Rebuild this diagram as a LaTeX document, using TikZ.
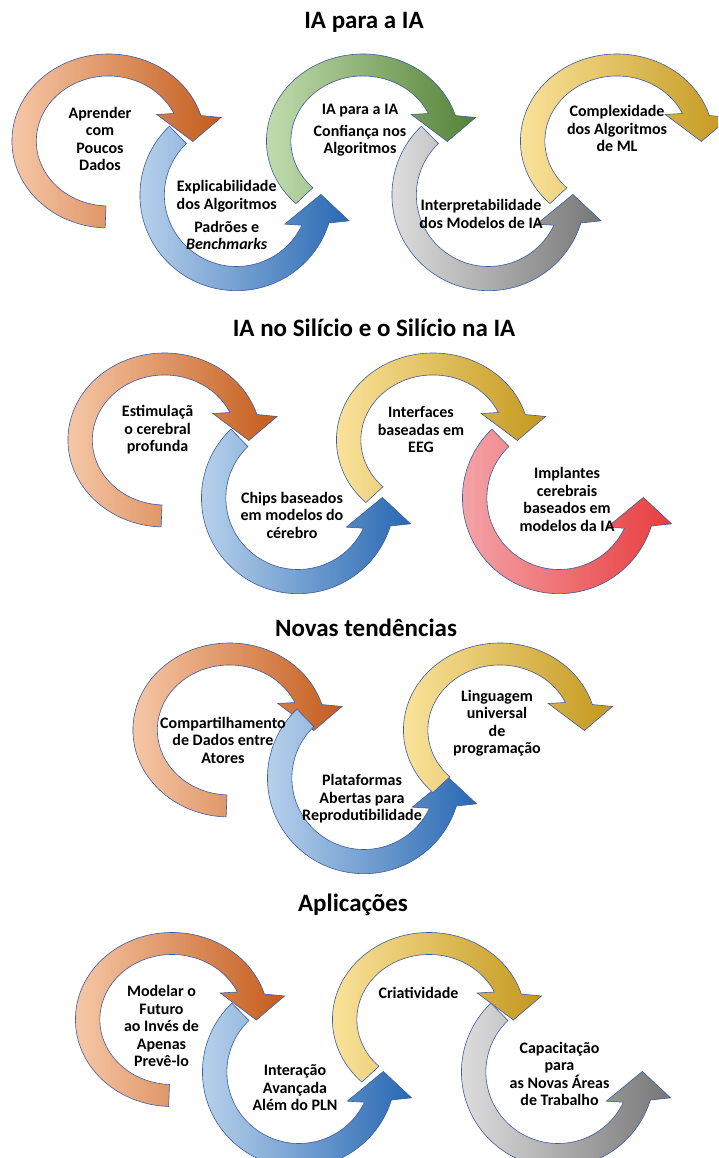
\documentclass[tikz,border=0pt]{standalone}
\usepackage{fontspec}
\setmainfont{Carlito}

\definecolor{rimblue}{RGB}{62,92,160}
\definecolor{orangeL}{RGB}{246,200,168}
\definecolor{orangeR}{RGB}{196,92,28}
\definecolor{blueL}{RGB}{190,214,238}
\definecolor{blueR}{RGB}{40,104,178}
\definecolor{greenL}{RGB}{198,224,180}
\definecolor{greenR}{RGB}{84,130,53}
\definecolor{greyL}{RGB}{226,226,226}
\definecolor{greyR}{RGB}{118,118,118}
\definecolor{yellowL}{RGB}{252,230,160}
\definecolor{yellowR}{RGB}{196,152,30}
\definecolor{redL}{RGB}{244,168,172}
\definecolor{redR}{RGB}{232,60,62}

% clockwise ring arrow, head on the right pointing down
% #1 centre, #2 tail angle, #3/#4 shading colours
\newcommand{\ringdown}[4]{%
  \begin{scope}[shift={(#1)},xscale=1.11]
    \draw[ring,left color=#3,right color=#4]
      (#2:87) arc[start angle=#2,end angle=17,radius=87]
      -- (101.4,23.5) -- (76,-0.5) -- (43.5,26.5)
      -- (25:65) arc[start angle=25,end angle=#2,radius=65] -- cycle;
  \end{scope}}
% anticlockwise ring arrow, head on the right pointing up
\newcommand{\ringup}[4]{%
  \begin{scope}[shift={(#1)},xscale=1.11,yscale=-1.1]
    \draw[ring,left color=#3,right color=#4]
      (#2:87) arc[start angle=#2,end angle=17,radius=87]
      -- (101.4,23.5) -- (76,-0.5) -- (43.5,26.5)
      -- (25:65) arc[start angle=25,end angle=#2,radius=65] -- cycle;
  \end{scope}}

\begin{document}
\begin{tikzpicture}[
  x=1pt,y=1pt,
  ring/.style={draw=rimblue,line width=0.6pt,line join=miter},
  lbl/.style={align=center,inner sep=0pt,font=\bfseries\fontsize{16}{17.5}\selectfont},
  ttl/.style={inner sep=0pt,font=\bfseries\fontsize{25}{29}\selectfont},
]
  \clip (0,0) rectangle (718,1158);
  \fill[white] (0,0) rectangle (718,1158);

  % IA para a IA
  \ringdown{108.5,1017}{268}{orangeL}{orangeR}
  \ringup{236.5,963}{226}{blueL}{blueR}
  \ringdown{363,1017}{226}{greenL}{greenR}
  \ringup{488.5,963}{226}{greyL}{greyR}
  \ringdown{617,1017}{226}{yellowL}{yellowR}

  % IA no Silicio
  \ringdown{164.5,718}{268}{orangeL}{orangeR}
  \ringup{298,660}{226}{blueL}{blueR}
  \ringdown{433,718}{226}{yellowL}{yellowR}
  \ringup{559,660}{226}{redL}{redR}

  % Novas tendencias
  \ringdown{229.5,428}{268}{orangeL}{orangeR}
  \ringup{364,380}{226}{blueL}{blueR}
  \ringdown{500,428}{226}{yellowL}{yellowR}

  % Aplicacoes
  \ringdown{172,138.5}{268}{orangeL}{orangeR}
  \ringup{299,86}{226}{blueL}{blueR}
  \ringdown{429,138.5}{226}{yellowL}{yellowR}
  \ringup{558,86}{226}{greyL}{greyR}

  % titles
  \node[ttl] (ttlA) at (364,1136) {IA para a IA};
  \node[ttl] (ttlB) at (374,830) {IA no Silício e o Silício na IA};
  \node[ttl] (ttlC) at (366,530) {Novas tendências};
  \node[ttl] (ttlD) at (353,253) {Aplicações};

  % labels, first row
  \node[lbl] (a1) at (100,1019) {Aprender\\com\\Poucos\\Dados};
  \node[lbl] (a2) at (226.7,943)
    {Explicabilidade\\dos Algoritmos\\[5.5pt]Padrões e\\\textit{Benchmarks}};
  \node[lbl] (a3) at (360,1028) {IA para a IA\\[4.5pt]Confiança nos\\Algoritmos};
  \node[lbl] (a4) at (481,944) {Interpretabilidade\\dos Modelos de IA};
  \node[lbl] (a5) at (617,1029.5) {Complexidade\\dos Algoritmos\\de ML};

  % labels, second row
  \node[lbl] (b1) at (157.6,728) {Estimulaçã\\o cerebral\\profunda};
  \node[lbl] (b2) at (292,643) {Chips baseados\\em modelos do\\cérebro};
  \node[lbl] (b3) at (421,728) {Interfaces\\baseadas em\\EEG};
  \node[lbl] (b4) at (567,658.5) {Implantes\\cerebrais\\baseados em\\modelos da IA};

  % labels, third row
  \node[lbl] (c1) at (223,418) {Compartilhamento\\de Dados entre\\Atores};
  \node[lbl] (c2) at (362,359) {Plataformas\\Abertas para\\Reprodutibilidade};
  \node[lbl] (c3) at (497,435) {Linguagem\\universal\\de\\programação};

  % labels, fourth row
  \node[lbl] (d1) at (161.5,132) {Modelar o\\Futuro\\ao Invés de\\Apenas\\Prevê-lo};
  \node[lbl] (d2) at (295,70) {Interação\\Avançada\\Além do PLN};
  \node[lbl] (d3) at (418.5,165) {Criatividade};
  \node[lbl] (d4) at (559.5,84) {Capacitação\\para\\as Novas Áreas\\de Trabalho};
\end{tikzpicture}
\end{document}
